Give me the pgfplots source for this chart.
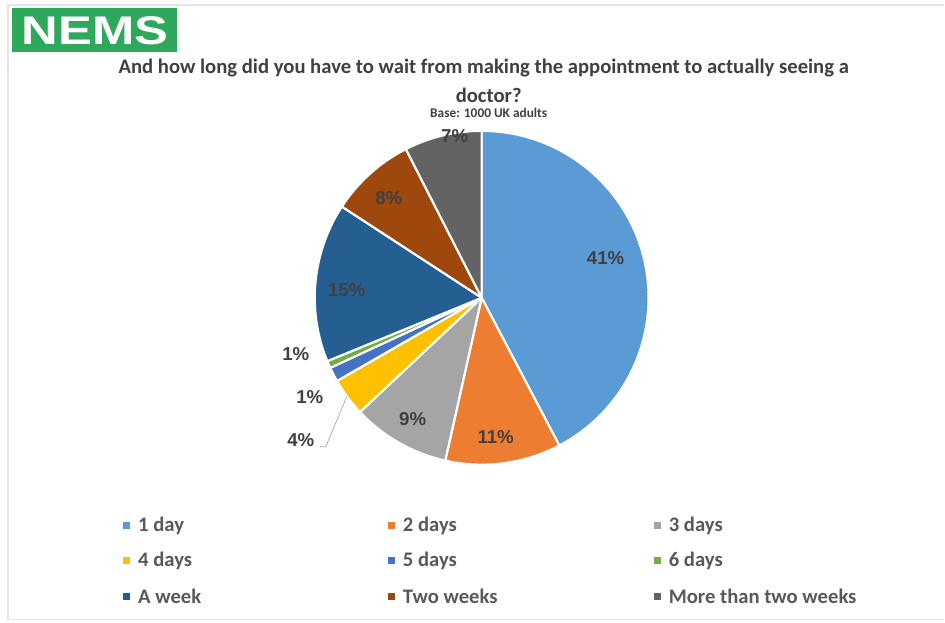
\documentclass[border=0pt]{standalone}
\usepackage{pgfplots}
\pgfplotsset{compat=1.18}
\usepackage{fontspec}
\setmainfont{Carlito}
\newfontfamily\arialfont{Liberation Sans}
\definecolor{c1}{HTML}{5B9BD5}
\definecolor{c2}{HTML}{ED7D31}
\definecolor{c3}{HTML}{A5A5A5}
\definecolor{c4}{HTML}{FFC000}
\definecolor{c5}{HTML}{4472C4}
\definecolor{c6}{HTML}{70AD47}
\definecolor{c7}{HTML}{255E91}
\definecolor{c8}{HTML}{9E480E}
\definecolor{c9}{HTML}{636363}
\definecolor{nemsgreen}{HTML}{2EA85A}
\definecolor{titlegray}{HTML}{404040}
\definecolor{leggray}{HTML}{595959}
\begin{document}
\begin{tikzpicture}
\begin{axis}[x=0.75pt, y=0.75pt, xmin=0, xmax=945, ymin=0, ymax=623,
  hide axis, scale only axis, clip=false]
% background and faint frame
\fill[white] (axis cs:0,0) rectangle (axis cs:945,623);
\draw[black!10, line width=1pt] (axis cs:945,618) -- (axis cs:8,618) -- (axis cs:8,3) -- (axis cs:945,3);
% logo
\fill[nemsgreen] (axis cs:12,571) rectangle (axis cs:177,615);
\node[white, font=\arialfont\bfseries\fontsize{30pt}{30pt}\selectfont, inner sep=0pt]
  at (axis cs:95,592) {\scalebox{1.27}[1]{NEMS}};
% titles
\node[titlegray, font=\bfseries\fontsize{15.5pt}{18pt}\selectfont] at (axis cs:484,555)
  {And how long did you have to wait from making the appointment to actually seeing a};
\node[titlegray, font=\bfseries\fontsize{15.5pt}{18pt}\selectfont] at (axis cs:489,528) {doctor?};
\node[titlegray, font=\bfseries\fontsize{10pt}{12pt}\selectfont] at (axis cs:489,510) {Base: 1000 UK adults};
% pie slices (percent shares, clockwise from 12 o'clock)
\xdef\curang{90}
\foreach \v/\col in {42.3/c1, 11.2/c2, 9.5/c3, 3.7/c4, 1.4/c5, 0.7/c6, 15.4/c7, 8.3/c8, 7.5/c9} {
  \pgfmathsetmacro\endang{\curang - 3.6*\v}
  \edef\temp{\noexpand\fill[\col, draw=white, line width=1.6pt, line join=round]
    (axis cs:482,325) -- ++(\curang:125.25pt) arc[start angle=\curang, end angle=\endang, radius=125.25pt] -- cycle;}
  \temp
  \xdef\curang{\endang}
}
% data labels
\begin{scope}[every node/.style={titlegray, font=\arialfont\bfseries\fontsize{14pt}{16pt}\selectfont}]
\node at (axis cs:606,365) {41\%};
\node at (axis cs:496,186) {11\%};
\node at (axis cs:413,204) {9\%};
\node at (axis cs:347,333) {15\%};
\node at (axis cs:389,425) {8\%};
\node at (axis cs:455,487) {7\%};
\node at (axis cs:296,269) {1\%};
\node at (axis cs:310,226) {1\%};
\node at (axis cs:301,183) {4\%};
\end{scope}
\draw[black!35, line width=0.5pt] (axis cs:320,176) -- (axis cs:326,176) -- (axis cs:347,226);
% legend
\begin{scope}[every node/.style={leggray, font=\bfseries\fontsize{15.5pt}{18pt}\selectfont, anchor=west, inner sep=0pt}]
\fill[c1] (axis cs:123,94) rectangle (axis cs:130,101); \node at (axis cs:138,97) {1 day};
\fill[c2] (axis cs:388,94) rectangle (axis cs:395,101); \node at (axis cs:403,97) {2 days};
\fill[c3] (axis cs:654,94) rectangle (axis cs:661,101); \node at (axis cs:669,97) {3 days};
\fill[c4] (axis cs:123,59) rectangle (axis cs:130,66); \node at (axis cs:138,62) {4 days};
\fill[c5] (axis cs:388,59) rectangle (axis cs:395,66); \node at (axis cs:403,62) {5 days};
\fill[c6] (axis cs:654,59) rectangle (axis cs:661,66); \node at (axis cs:669,62) {6 days};
\fill[c7] (axis cs:123,23) rectangle (axis cs:130,30); \node at (axis cs:138,26) {A week};
\fill[c8] (axis cs:388,23) rectangle (axis cs:395,30); \node at (axis cs:403,26) {Two weeks};
\fill[c9] (axis cs:654,23) rectangle (axis cs:661,30); \node at (axis cs:669,26) {More than two weeks};
\end{scope}
\end{axis}
\end{tikzpicture}
\end{document}
